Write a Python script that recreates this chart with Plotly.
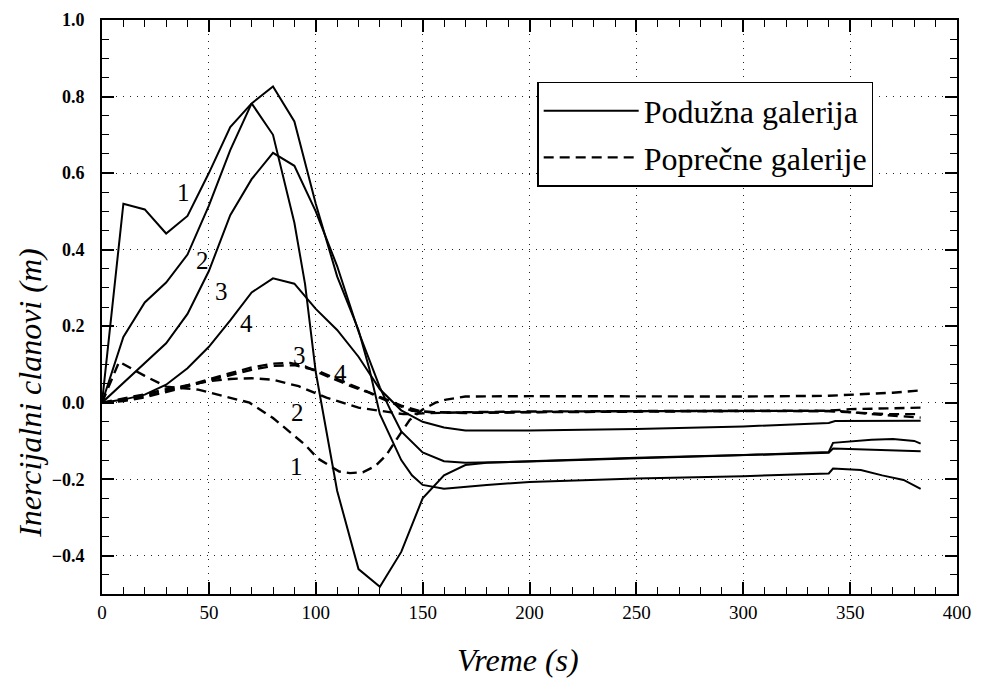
import plotly.graph_objects as go

# ---- data ----
# Solid curves: Podužna galerija
t_s1 = [0, 10, 20, 30, 40, 50, 60, 70, 80, 90, 100, 110, 120, 125, 130, 135, 140, 145, 150, 160, 180, 200, 250, 300, 340, 342, 355, 365, 375, 383]
v_s1 = [0, 0.52, 0.505, 0.442, 0.488, 0.60, 0.72, 0.782, 0.826, 0.735, 0.52, 0.33, 0.19, 0.09, -0.03, -0.09, -0.15, -0.19, -0.215, -0.225, -0.215, -0.207, -0.198, -0.192, -0.185, -0.172, -0.176, -0.19, -0.202, -0.225]

t_s2 = [0, 10, 20, 30, 40, 50, 60, 70, 80, 90, 95, 100, 110, 120, 130, 140, 150, 160, 170, 180, 200, 250, 300, 340, 342, 360, 370, 380, 383]
v_s2 = [0, 0.172, 0.262, 0.314, 0.387, 0.515, 0.66, 0.782, 0.70, 0.47, 0.31, 0.08, -0.23, -0.435, -0.481, -0.39, -0.25, -0.19, -0.163, -0.157, -0.153, -0.144, -0.137, -0.129, -0.105, -0.097, -0.095, -0.1, -0.107]

t_s3 = [0, 10, 20, 30, 40, 50, 60, 70, 80, 90, 100, 110, 120, 130, 135, 140, 150, 160, 170, 200, 250, 300, 340, 342, 383]
v_s3 = [0, 0.052, 0.103, 0.155, 0.232, 0.344, 0.49, 0.584, 0.653, 0.619, 0.50, 0.357, 0.186, 0.04, -0.02, -0.075, -0.13, -0.153, -0.157, -0.154, -0.145, -0.138, -0.131, -0.12, -0.127]

t_s4 = [0, 10, 20, 30, 40, 50, 60, 70, 80, 90, 100, 110, 120, 130, 140, 150, 160, 170, 200, 250, 300, 340, 343, 360, 383]
v_s4 = [0, 0.008, 0.021, 0.047, 0.09, 0.146, 0.215, 0.288, 0.325, 0.311, 0.245, 0.19, 0.12, 0.035, -0.02, -0.05, -0.065, -0.073, -0.073, -0.069, -0.062, -0.053, -0.048, -0.048, -0.047]

# Dashed curves: Poprečne galerije
t_d1 = [0, 8, 20, 30, 45, 55, 69, 80, 86, 95, 101, 111, 116, 122, 128, 133, 139, 144, 150, 156, 161, 170, 200, 250, 300, 340, 353, 370, 383]
v_d1 = [0, 0.107, 0.07, 0.042, 0.034, 0.02, 0.0, -0.04, -0.069, -0.11, -0.146, -0.18, -0.184, -0.182, -0.165, -0.137, -0.086, -0.045, -0.018, 0.0, 0.008, 0.016, 0.017, 0.017, 0.016, 0.018, 0.021, 0.026, 0.032]

t_d2 = [0, 10, 20, 30, 40, 50, 60, 70, 80, 92, 105, 120, 136, 141, 150, 170, 200, 250, 300, 340, 350, 365, 383]
v_d2 = [0, 0.01, 0.022, 0.035, 0.046, 0.056, 0.062, 0.064, 0.06, 0.043, 0.013, -0.013, -0.026, -0.03, -0.028, -0.025, -0.023, -0.022, -0.021, -0.021, -0.017, -0.015, -0.013]

t_d3 = [0, 10, 20, 30, 40, 50, 60, 70, 80, 88, 95, 102, 111, 117, 125, 134, 145, 155, 170, 200, 250, 300, 340, 345, 360, 370, 383]
v_d3 = [0, 0.006, 0.017, 0.03, 0.045, 0.062, 0.077, 0.092, 0.102, 0.104, 0.095, 0.077, 0.056, 0.042, 0.026, 0.003, -0.021, -0.025, -0.026, -0.024, -0.022, -0.021, -0.021, -0.022, -0.03, -0.034, -0.039]

t_d4 = [0, 10, 20, 30, 40, 50, 60, 70, 80, 90, 100, 110, 120, 130, 140, 150, 170, 200, 250, 300, 340, 355, 367, 383]
v_d4 = [0, 0.004, 0.014, 0.027, 0.042, 0.058, 0.072, 0.086, 0.096, 0.098, 0.085, 0.062, 0.04, 0.016, -0.008, -0.024, -0.027, -0.025, -0.023, -0.022, -0.022, -0.026, -0.03, -0.03]

# curve number labels (text, x, y)
lab_text = ["1", "2", "3", "4", "3", "4", "2", "1"]
lab_x = [37.9, 47.2, 56.1, 67.4, 92.6, 111.7, 91.6, 91.1]
lab_y = [0.549, 0.371, 0.291, 0.206, 0.124, 0.077, -0.026, -0.168]

x_title = "Vreme (s)"
y_title = "Inercijalni clanovi (m)"
x_range = [0, 400]
y_range = [-0.5, 1.0]

SERIF = "Liberation Serif"

fig = go.Figure()

solid = [(t_s1, v_s1), (t_s2, v_s2), (t_s3, v_s3), (t_s4, v_s4)]
dashed = [(t_d1, v_d1), (t_d2, v_d2), (t_d3, v_d3), (t_d4, v_d4)]

for i, (t, v) in enumerate(solid):
    fig.add_trace(go.Scatter(x=t, y=v, mode="lines",
                             line=dict(color="black", width=2),
                             name="Podužna galerija", legendgroup="a",
                             showlegend=(i == 0)))
for i, (t, v) in enumerate(dashed):
    fig.add_trace(go.Scatter(x=t, y=v, mode="lines",
                             line=dict(color="black", width=2.4, dash="10px,6px"),
                             name="Poprečne galerije", legendgroup="b",
                             showlegend=(i == 0)))

for s, xx, yy in zip(lab_text, lab_x, lab_y):
    fig.add_annotation(x=xx, y=yy, text=s, showarrow=False,
                       font=dict(family=SERIF, size=25, color="black"))

# axis titles as annotations (positioned like the reference)
fig.add_annotation(xref="paper", yref="paper", x=-0.0845, y=0.35, text="<i>" + y_title + "</i>",
                   textangle=-90, showarrow=False, xanchor="center", yanchor="middle",
                   font=dict(family=SERIF, size=32, color="black"))
fig.add_annotation(xref="paper", yref="paper", x=0.487, y=-0.115, text="<i>" + x_title + "</i>",
                   showarrow=False, xanchor="center", yanchor="middle",
                   font=dict(family=SERIF, size=32, color="black"))

axis_common = dict(
    showline=True, linecolor="black", linewidth=2, mirror="allticks",
    ticks="inside", ticklen=12, tickwidth=1.5, tickcolor="black",
    showgrid=True, gridcolor="#222", griddash="1px,6px", gridwidth=1,
    zeroline=False, automargin=False, ticklabeloverflow="allow",
)

fig.update_xaxes(
    range=x_range, tickmode="linear", tick0=0, dtick=50,
    minor=dict(dtick=10, tick0=0, ticks="inside", ticklen=7, tickcolor="black", tickwidth=1, showgrid=False),
    tickfont=dict(family=SERIF, size=19, color="black"),
    ticklabelstandoff=0,
    **axis_common,
)
fig.update_yaxes(
    range=y_range, tickmode="linear", tick0=0, dtick=0.2, tickformat=".1f",
    minor=dict(dtick=0.05, tick0=0, ticks="inside", ticklen=7, tickcolor="black", tickwidth=1, showgrid=False),
    tickfont=dict(family=SERIF, size=18, color="black", weight="bold"),
    ticklabelstandoff=12,
    **axis_common,
)

fig.update_layout(
    width=992, height=688,
    font=dict(family=SERIF, color="black"),
    margin=dict(l=94, r=43, t=12, b=102),
    paper_bgcolor="white", plot_bgcolor="white",
    legend=dict(x=0.509, y=0.892, xanchor="left", yanchor="top",
                bgcolor="white", bordercolor="black", borderwidth=1.5,
                font=dict(family=SERIF, size=32, color="black"),
                itemwidth=95, traceorder="grouped", tracegroupgap=2),
)

fig.write_html("out.html")
